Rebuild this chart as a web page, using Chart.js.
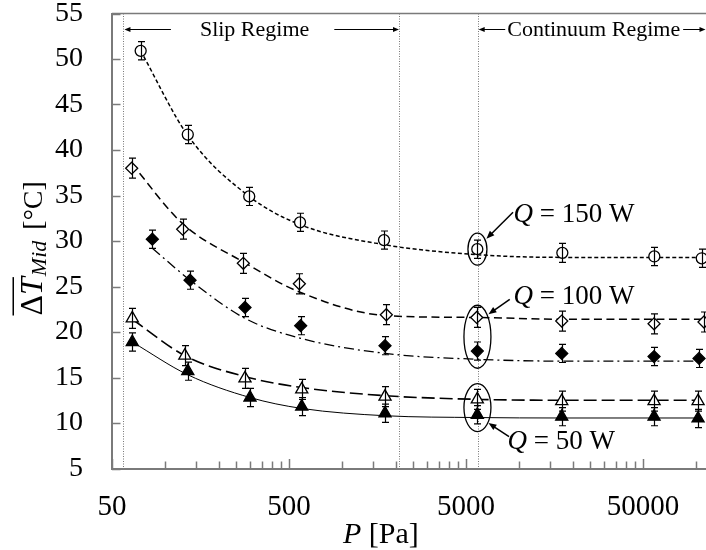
<!DOCTYPE html>
<html><head><meta charset="utf-8">
<script src="https://cdn.jsdelivr.net/npm/chart.js@4"></script>
<style>html,body{margin:0;padding:0;background:#fff;overflow:hidden}canvas{display:block}</style>
</head><body>
<canvas id="c" width="706" height="550"></canvas>
<script>
// ---- tick definitions ----
const xMajorTicks = [50, 500, 5000, 50000];
const xTickLabels = ['50', '500', '5000', '50000'];
const xMinorFactors = [2, 3, 4, 5, 6, 7, 8, 9];
const yTicks = [5, 10, 15, 20, 25, 30, 35, 40, 45, 50, 55];
// regime boundaries (Pa)
const regimeBounds = [58, 2090, 5820];

// ---- Q = 150 W (open circles) ----
const p150 = [72.6, 134, 298, 577, 1720, 5790, 17500, 57900, 107300];
const t150 = [50.9, 41.7, 34.9, 32.05, 30.1, 29.1, 28.7, 28.3, 28.1];
const e150 = [1.0, 1.0, 1.0, 1.0, 1.0, 1.0, 1.05, 1.0, 1.0];
const fit150 = [50.9, 41.6, 34.9, 31.8, 29.6, 28.5, 28.2, 28.2, 28.2];
// ---- Q = 100 W (open diamonds) ----
const p100a = [64.6, 125.4, 276, 572, 1773, 5745, 17365, 57700, 110500];
const t100a = [38.0, 31.3, 27.55, 25.3, 21.9, 21.6, 21.2, 20.9, 21.1];
const e100a = [1.1, 1.1, 1.1, 1.1, 1.1, 1.1, 1.1, 1.1, 1.1];
const fit100a = [38.5, 31.9, 27.7, 24.4, 21.8, 21.6, 21.4, 21.4, 21.4];
// ---- Q = 100 W (filled diamonds) ----
const p100b = [84.5, 138, 282, 582, 1743, 5790, 17365, 57700, 103600];
const t100b = [30.2, 25.7, 22.7, 20.7, 18.5, 17.9, 17.65, 17.3, 17.1];
const e100b = [1.0, 1.0, 1.0, 1.0, 1.0, 1.0, 1.0, 1.0, 1.0];
const fit100b = [29.2, 25.7, 21.5, 19.3, 17.65, 17.0, 16.8, 16.8, 16.8];
// ---- Q = 50 W (open triangles) ----
const p50a = [65.1, 129, 282, 590, 1743, 5790, 17365, 57700, 102300];
const t50a = [21.5, 17.4, 14.9, 13.7, 12.9, 12.6, 12.4, 12.4, 12.4];
const e50a = [1.1, 1.1, 1.1, 1.1, 1.1, 1.1, 1.1, 1.1, 1.1];
const fit50a = [21.4, 17.4, 15.1, 13.9, 13.0, 12.6, 12.5, 12.5, 12.5];
// ---- Q = 50 W (filled triangles) ----
const p50b = [65.1, 134, 301, 590, 1743, 5790, 17365, 57700, 102300];
const t50b = [18.9, 15.7, 12.8, 11.8, 11.07, 10.9, 10.7, 10.7, 10.5];
const e50b = [1.0, 1.0, 1.0, 1.0, 1.0, 1.0, 1.0, 1.0, 1.0];
const fit50b = [18.9, 15.3, 12.8, 11.6, 10.8, 10.6, 10.55, 10.55, 10.55];

// annotation anchors (data coords) for the encircled points
const annoAnchors = [
  {label: '150 W', p: 5800, t: 29.1, rx: 9.5, ry: 16},
  {label: '100 W', p: 5800, t: 19.48, rx: 13.5, ry: 31.5},
  {label: '50 W', p: 5800, t: 11.7, rx: 13.5, ry: 24}
];

const FONT = "'Liberation Serif', 'Times New Roman', serif";
const AXIS_GRAY = '#7a7a7a';

const pts = (xs, ys) => xs.map((x, i) => ({x, y: ys[i]}));

function fitDs(xs, ys, dash, w) {
  return {data: pts(xs, ys), showLine: true, pointRadius: 0, borderColor: '#000',
    borderWidth: w, borderDash: dash, cubicInterpolationMode: 'monotone', order: 3, fill: false};
}
function markDs(xs, ys, err, style, filled, r) {
  return {data: pts(xs, ys), showLine: false, pointStyle: style, pointRadius: r,
    borderColor: '#000', backgroundColor: filled ? '#000' : '#fff', pointBorderWidth: 1.3,
    err, order: 1};
}

function drawArrow(ctx, x1, y1, x2, y2, hl, hw) {
  const ang = Math.atan2(y2 - y1, x2 - x1);
  ctx.beginPath(); ctx.moveTo(x1, y1);
  ctx.lineTo(x2 - Math.cos(ang) * hl * 0.8, y2 - Math.sin(ang) * hl * 0.8); ctx.stroke();
  ctx.beginPath();
  ctx.moveTo(x2, y2);
  ctx.lineTo(x2 - Math.cos(ang) * hl - Math.sin(ang) * hw, y2 - Math.sin(ang) * hl + Math.cos(ang) * hw);
  ctx.lineTo(x2 - Math.cos(ang) * hl + Math.sin(ang) * hw, y2 - Math.sin(ang) * hl - Math.cos(ang) * hw);
  ctx.closePath(); ctx.fill();
}

function zeroPad(s) { s.paddingTop = 0; s.paddingBottom = 0; s.paddingLeft = 0; s.paddingRight = 0; }

const decor = {
  id: 'decor',
  beforeDatasetsDraw(chart) {
    const {ctx, chartArea: a, scales: {x}} = chart;
    ctx.save();
    ctx.strokeStyle = '#777'; ctx.lineWidth = 1; ctx.setLineDash([1, 1.5]);
    regimeBounds.forEach(v => {
      const px = Math.round(x.getPixelForValue(v)) + 0.5;
      ctx.beginPath(); ctx.moveTo(px, a.top); ctx.lineTo(px, a.bottom); ctx.stroke();
    });
    ctx.restore();
  },
  afterDatasetsDraw(chart) {
    const {ctx, scales: {y}} = chart;
    ctx.save();
    ctx.strokeStyle = '#000'; ctx.lineWidth = 1.2;
    chart.data.datasets.forEach((ds, i) => {
      if (!ds.err) return;
      const meta = chart.getDatasetMeta(i);
      meta.data.forEach((el, j) => {
        const v = ds.data[j].y, e = ds.err[j];
        const yt = y.getPixelForValue(v + e), yb = y.getPixelForValue(v - e);
        const px = Math.round(el.x) + 0.5;
        ctx.beginPath();
        ctx.moveTo(px, yt); ctx.lineTo(px, yb);
        ctx.moveTo(px - 3.5, yt); ctx.lineTo(px + 3.5, yt);
        ctx.moveTo(px - 3.5, yb); ctx.lineTo(px + 3.5, yb);
        ctx.stroke();
      });
    });
    ctx.restore();
  },
  afterDraw(chart) {
    const {ctx, chartArea: a, scales: {x, y}} = chart;
    ctx.save();
    // inward ticks
    ctx.strokeStyle = AXIS_GRAY; ctx.lineWidth = 1.5;
    yTicks.forEach(v => {
      const py = Math.round(y.getPixelForValue(v)) + 0.5;
      ctx.beginPath(); ctx.moveTo(a.left, py); ctx.lineTo(a.left + 8.5, py); ctx.stroke();
    });
    x.ticks.forEach(t => {
      const px = Math.round(x.getPixelForValue(t.value)) + 0.5;
      const len = t.major ? 9.5 : 7;
      ctx.beginPath(); ctx.moveTo(px, a.bottom); ctx.lineTo(px, a.bottom - len); ctx.stroke();
    });
    // top frame line
    ctx.lineWidth = 1.6;
    ctx.beginPath(); ctx.moveTo(a.left, a.top); ctx.lineTo(a.right + 2, a.top); ctx.stroke();

    // regime labels with arrows
    ctx.fillStyle = '#000'; ctx.strokeStyle = '#000'; ctx.lineWidth = 1;
    ctx.font = '22px ' + FONT; ctx.textBaseline = 'alphabetic'; ctx.textAlign = 'left';
    const ry = a.top + 16;
    const L = x.getPixelForValue(regimeBounds[0]) + 0.5;
    const R = x.getPixelForValue(regimeBounds[1]) + 0.5;
    const C = x.getPixelForValue(regimeBounds[2]) + 0.5;
    const sTxt = 'Slip Regime';
    const sx = L + 76, sw = ctx.measureText(sTxt).width;
    ctx.fillText(sTxt, sx, ry + 6.5);
    drawArrow(ctx, sx - 29, ry, L + 0.5, ry, 6, 2.5);
    drawArrow(ctx, sx + sw + 25, ry, R - 0.5, ry, 6, 2.5);
    const cTxt = 'Continuum Regime';
    const cx = C + 29, cw = ctx.measureText(cTxt).width;
    ctx.fillText(cTxt, cx, ry + 6.5);
    drawArrow(ctx, cx - 2, ry, C + 0.5, ry, 6, 2.5);
    drawArrow(ctx, cx + cw + 3, ry, a.right - 0.5, ry, 6, 2.5);

    // Q annotations: ellipses, arrows and labels
    const offs = [
      {tail: [35.6, -37], head: [9, -10.5], txt: [36, -27.3]},
      {tail: [32.3, -37.4], head: [11, -22.4], txt: [36, -32.7]},
      {tail: [31.6, 29.2], head: [11, 15.5], txt: [30, 41.5]}
    ];
    annoAnchors.forEach((an, k) => {
      const cxp = x.getPixelForValue(an.p), cyp = y.getPixelForValue(an.t);
      ctx.lineWidth = 1.3;
      ctx.beginPath(); ctx.ellipse(cxp, cyp, an.rx, an.ry, 0, 0, Math.PI * 2); ctx.stroke();
      const o = offs[k];
      ctx.lineWidth = 1.5;
      drawArrow(ctx, cxp + o.tail[0], cyp + o.tail[1], cxp + o.head[0], cyp + o.head[1], 8, 3.2);
      let tx = cxp + o.txt[0]; const ty = cyp + o.txt[1];
      ctx.font = 'italic 27px ' + FONT;
      ctx.fillText('Q', tx, ty); tx += ctx.measureText('Q').width;
      ctx.font = '27px ' + FONT;
      ctx.fillText(' = ' + an.label, tx, ty);
    });

    // x axis title
    let tx = 343; const tyb = 543;
    ctx.font = 'italic 30px ' + FONT;
    ctx.fillText('P', tx, tyb); tx += ctx.measureText('P').width;
    ctx.font = '30px ' + FONT;
    ctx.fillText(' [Pa]', tx, tyb);

    // y axis title (rotated)
    ctx.save();
    ctx.translate(41.5, 315.5); ctx.rotate(-Math.PI / 2);
    let ox = 0;
    ctx.font = '32px ' + FONT; ctx.fillText('\u0394', ox, 0); ox += ctx.measureText('\u0394').width;
    ctx.font = 'italic 32px ' + FONT; ctx.fillText('T', ox, 0); ox += ctx.measureText('T').width;
    ctx.fillRect(0, -29, ox, 1.5);
    ctx.font = 'italic 22px ' + FONT; ctx.fillText('Mid', ox + 1, 4); ox += 1 + ctx.measureText('Mid').width;
    ctx.font = '28px ' + FONT; ctx.fillText(' [\u00B0C]', ox + 4, 0);
    ctx.restore();

    ctx.restore();
  }
};

new Chart(document.getElementById('c'), {
  type: 'scatter',
  data: {
    datasets: [
      fitDs(p150, fit150, [4, 2.5], 1.5),
      fitDs(p100a, fit100a, [8, 4.5], 1.5),
      fitDs(p100b, fit100b, [10, 4, 2, 4], 1.3),
      fitDs(p50a, fit50a, [13, 5], 1.6),
      fitDs(p50b, fit50b, [], 1),
      markDs(p150, t150, e150, 'circle', false, 5.5),
      markDs(p100a, t100a, e100a, 'rectRot', false, 6),
      markDs(p100b, t100b, e100b, 'rectRot', true, 6),
      markDs(p50a, t50a, e50a, 'triangle', false, 7),
      markDs(p50b, t50b, e50b, 'triangle', true, 7)
    ]
  },
  options: {
    responsive: false, animation: false, devicePixelRatio: 1, events: [],
    layout: {autoPadding: false, padding: {top: 13.5, right: 0, left: 0, bottom: 0}},
    plugins: {legend: {display: false}, tooltip: {enabled: false}},
    scales: {
      x: {
        type: 'logarithmic', position: 'bottom', min: 50, max: 113400,
        afterBuildTicks: s => {
          const t = [];
          xMajorTicks.forEach(b => { t.push({value: b, major: true});
            xMinorFactors.forEach(f => { if (b * f <= 113400) t.push({value: b * f, major: false}); }); });
          s.ticks = t;
        },
        afterFit: s => { s.height = 81.5; zeroPad(s); },
        ticks: {autoSkip: false, maxRotation: 0, minRotation: 0, padding: 21.5, color: '#000',
          font: {family: FONT, size: 29},
          callback: v => { const i = xMajorTicks.indexOf(v); return i >= 0 ? xTickLabels[i] : ''; }},
        grid: {display: false, drawTicks: false},
        border: {display: true, color: AXIS_GRAY, width: 2}
      },
      y: {
        type: 'linear', min: 5, max: 55,
        afterBuildTicks: s => { s.ticks = yTicks.map(v => ({value: v})); },
        afterFit: s => { s.width = 112; zeroPad(s); },
        ticks: {padding: 29, color: '#000', font: {family: FONT, size: 28}},
        grid: {display: false, drawTicks: false},
        border: {display: true, color: AXIS_GRAY, width: 2}
      }
    }
  },
  plugins: [decor]
});
</script>
</body></html>
